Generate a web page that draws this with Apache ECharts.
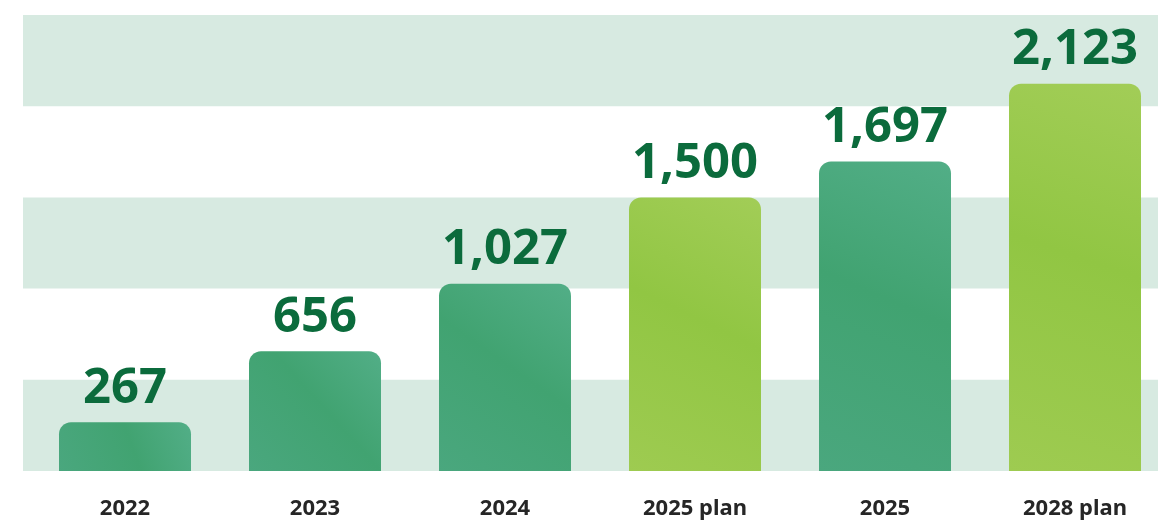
<!DOCTYPE html>
<html><head><meta charset="utf-8">
<script src="https://cdn.jsdelivr.net/npm/echarts@6/dist/echarts.min.js"></script>
<style>html,body{margin:0;padding:0;background:#fff}#c{width:1158px;height:520px}</style>
</head><body><div id="c"></div>
<script>
const categories = ['2022', '2023', '2024', '2025 plan', '2025', '2028 plan'];
const values = [267, 656, 1027, 1500, 1697, 2123];
const isPlan = [false, false, false, true, false, true];
const yTicks = [0, 500, 1000, 1500, 2000, 2500];

const greenFill = new echarts.graphic.LinearGradient(1, 0, 0, 1, [
  {offset: 0, color: '#52ae87'}, {offset: 0.45, color: '#41a371'}, {offset: 1, color: '#4aa77e'}]);
const limeFill = new echarts.graphic.LinearGradient(1, 0, 0, 1, [
  {offset: 0, color: '#a2cd57'}, {offset: 0.45, color: '#91c643'}, {offset: 1, color: '#9ecb51'}]);

const chart = echarts.init(document.getElementById('c'));
chart.setOption({
  animation: false,
  grid: [
    {left: 23, width: 1160, top: 15, bottom: 49, outerBoundsMode: 'none', containLabel: false},
    {left: 30, width: 1140, top: 15, bottom: 49, outerBoundsMode: 'none', containLabel: false}
  ],
  xAxis: [
    {gridIndex: 0, type: 'category', data: categories, show: false},
    {gridIndex: 1, type: 'category', data: categories,
     axisLine: {show: false}, axisTick: {show: false},
     axisLabel: {margin: 27, fontFamily: 'Noto Sans', fontWeight: 'bold', fontSize: 22, color: '#262626'}}
  ],
  yAxis: [
    {gridIndex: 0, type: 'value', min: yTicks[0], max: yTicks[yTicks.length - 1], interval: 500,
     axisLabel: {show: false}, axisLine: {show: false}, axisTick: {show: false},
     splitLine: {show: false},
     splitArea: {show: true, areaStyle: {color: ['#d7eae1', 'rgba(255,255,255,0)']}}},
    {gridIndex: 1, type: 'value', min: yTicks[0], max: yTicks[yTicks.length - 1], interval: 500,
     show: false, splitLine: {show: false}}
  ],
  series: [{
    type: 'bar', xAxisIndex: 1, yAxisIndex: 1,
    barWidth: 132,
    data: values.map((v, i) => ({value: v, itemStyle: {color: isPlan[i] ? limeFill : greenFill}})),
    itemStyle: {borderRadius: [12, 12, 0, 0]},
    label: {
      show: true, position: 'top', distance: 9,
      fontFamily: 'Noto Sans', fontWeight: 'bold', fontSize: 49, color: '#0b6b3c',
      formatter: p => p.value.toLocaleString('en-US')
    }
  }]
});
</script></body></html>
